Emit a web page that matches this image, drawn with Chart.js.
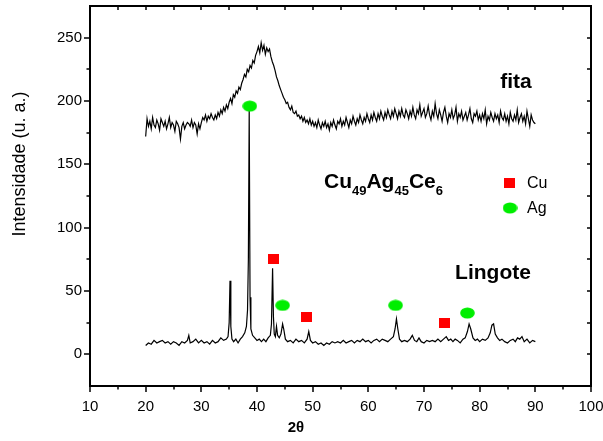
<!DOCTYPE html>
<html>
<head>
<meta charset="utf-8">
<script src="https://cdn.jsdelivr.net/npm/chart.js@4"></script>
<style>
html,body{margin:0;padding:0;background:#fff;}
canvas{display:block;}
</style>
</head>
<body>
<canvas id="c" width="603" height="441"></canvas>
<script>
// ---------------- DATA ----------------
// "fita" pattern: measured every 0.25 deg from 20 to 90 (2theta)
const fitaStart = 20;
const fitaStep = 0.25;
const fitaVals = [
172,186,180,184,178,187,181,179,185,182, 177,186,183,180,184,178,182,187,179,183,
181,176,184,182,179,170,180,183,178,181, 183,182,180,185,179,183,181,174,182,178,
183,187,185,189,184,188,186,190,187,185, 189,186,191,188,193,190,195,192,197,194,
199,202,198,205,203,208,206,211,209,214, 217,221,219,225,223,228,226,232,230,236,
239,243,238,246,240,244,237,242,239,241, 235,231,228,224,219,216,212,209,206,203,
201,198,199,195,193,196,191,190,192,188, 189,186,188,184,187,183,185,182,186,181,
184,180,183,179,185,181,178,183,180,184, 179,182,177,183,180,185,181,178,184,182,
186,180,184,181,187,183,179,185,182,188, 184,181,186,183,189,185,182,187,184,190,
186,183,189,185,191,187,184,190,186,192, 188,185,191,187,193,189,186,192,188,194,
190,186,192,188,194,189,187,193,190,186, 192,188,195,189,186,193,190,197,188,191,
194,187,190,196,189,185,192,188,198,190, 186,193,189,184,191,195,188,183,190,187,
193,186,189,195,184,190,187,192,185,188, 191,185,189,194,186,183,190,188,192,185,
189,184,190,186,193,182,188,185,191,187, 184,190,186,189,183,192,187,185,190,184,
188,182,191,186,184,189,185,193,183,187, 190,184,188,182,192,186,180,189,185,183,
182
];

// "Lingote" pattern
const lingAngles = [
20,20.5,21,21.5,22,22.5,23,23.5,24,24.5,25,25.5,26,26.5,27,27.5,27.75,28,28.5,29,29.5,
30,30.5,31,31.5,32,32.5,33,33.5,34,34.5,34.8,35.0,35.15,35.3,35.5,35.8,36.2,36.6,37.0,37.4,
37.8,38.1,38.3,38.45,38.6,38.75,38.9,39.2,39.6,40,40.4,40.8,41.2,41.6,42,42.4,42.6,42.8,
42.95,43.1,43.3,43.5,43.7,44,44.3,44.6,44.8,45.1,45.5,46,46.5,47,47.5,48,48.5,49,49.3,49.6,
50,50.5,51,51.5,52,52.5,53,53.5,54,54.5,55,55.5,56,56.5,57,57.5,58,58.5,59,59.5,
60,60.5,61,61.5,62,62.5,63,63.5,64,64.5,64.8,65.05,65.3,65.6,66,66.5,67,67.5,67.9,68.3,
68.7,69.1,69.5,70,70.5,71,71.5,72,72.5,73,73.5,74,74.4,74.8,75.2,75.6,76,76.5,77,77.4,
77.8,78.1,78.4,78.8,79.2,79.6,80,80.5,81,81.5,81.9,82.2,82.5,82.8,83.2,83.6,84,84.5,
85,85.5,86,86.4,86.8,87.2,87.6,88,88.5,89,89.5,90
];
const lingVals = [
7,9,8,11,9,10,11,9,10,8,10,9,7,10,9,11,15,9,10,12,9,
11,9,10,8,11,9,10,13,11,12,14,25,58,22,12,10,12,9,12,14,
17,22,35,75,193,45,20,15,13,11,12,10,12,10,13,15,24,68,
30,16,14,22,15,13,16,24,20,12,10,11,9,12,10,11,9,12,18,11,
9,10,8,9,7,9,8,10,9,10,9,11,9,10,11,9,11,10,12,10,
11,9,11,12,10,12,11,10,12,14,20,28,20,12,10,11,10,12,15,11,
10,13,10,9,11,10,11,10,12,10,12,14,11,12,10,12,11,9,12,13,
18,24,20,13,11,12,10,12,11,13,17,23,24,16,13,11,12,10,
9,11,12,10,13,12,14,10,12,9,11,10
];

// phase markers
const cuAngles = [42.9, 48.9, 73.6];
const cuHeights = [75, 29.5, 24.5];
const agAngles = [38.7, 44.6, 64.9, 77.8];
const agHeights = [196, 38.7, 38.7, 32.6];

// axes
const xTickLabels = [10,20,30,40,50,60,70,80,90,100];
const yTickLabels = [0,50,100,150,200,250];
const xRange = [10, 100];
const yRange = [-25, 275];

// ---------------- BUILD ----------------
const fitaPts = fitaVals.map((v,i)=>({x: fitaStart + i*fitaStep, y: v}));
const lingPts = lingVals.map((v,i)=>({x: lingAngles[i], y: v}));
const cuPts = cuAngles.map((a,i)=>({x:a, y:cuHeights[i]}));
const agPts = agAngles.map((a,i)=>({x:a, y:agHeights[i]}));

const RED = '#ff0000';
const GREEN = '#00ee00';
function makeSquare(){
  const c = document.createElement('canvas'); c.width = 11; c.height = 10;
  const g = c.getContext('2d'); g.fillStyle = RED; g.fillRect(0,0,11,10); return c;
}
function makeEllipse(){
  const c = document.createElement('canvas'); c.width = 15; c.height = 12;
  const g = c.getContext('2d'); g.fillStyle = GREEN; g.beginPath();
  g.ellipse(7.5,6,7.3,5.6,0,0,Math.PI*2); g.fill(); return c;
}
const sqImg = makeSquare();
const elImg = makeEllipse();

const FONT = 'Arial, "Liberation Sans", Helvetica, sans-serif';

const decor = {
  id: 'decor',
  afterDraw(chart){
    const ctx = chart.ctx;
    const a = chart.chartArea;
    const xs = chart.scales.x, ys = chart.scales.y;
    ctx.save();
    // frame
    ctx.strokeStyle = '#000';
    ctx.lineWidth = 2;
    ctx.strokeRect(a.left, a.top, a.right - a.left, a.bottom - a.top);
    ctx.lineWidth = 1.5;
    ctx.beginPath();
    for (let v = xRange[0]; v <= xRange[1]; v += 5) {
      const px = Math.round(xs.getPixelForValue(v));
      const major = v % 10 === 0;
      ctx.moveTo(px, a.bottom); ctx.lineTo(px, a.bottom + (major ? 6 : 3.5));
      if (v > xRange[0] && v < xRange[1]) { ctx.moveTo(px, a.top); ctx.lineTo(px, a.top + 4); }
    }
    for (let v = yRange[0]; v <= yRange[1]; v += 25) {
      const py = Math.round(ys.getPixelForValue(v));
      const major = v % 50 === 0;
      if (v > yRange[0] && v < yRange[1]) {
        ctx.moveTo(a.left, py); ctx.lineTo(a.left - (major ? 6 : 3.5), py);
        ctx.moveTo(a.right, py); ctx.lineTo(a.right - 4, py);
      }
    }
    ctx.stroke();

    ctx.fillStyle = '#000';
    // axis titles
    ctx.font = '18px ' + FONT;
    ctx.textAlign = 'center'; ctx.textBaseline = 'middle';
    ctx.save();
    ctx.translate(20, 164);
    ctx.rotate(-Math.PI/2);
    ctx.fillText('Intensidade (u. a.)', 0, 0);
    ctx.restore();
    ctx.font = 'bold 15px ' + FONT;
    ctx.fillText('2\u03B8', 296, 428);

    // labels
    ctx.font = 'bold 21px ' + FONT;
    ctx.textAlign = 'center'; ctx.textBaseline = 'alphabetic';
    ctx.fillText('fita', 516, 88);
    ctx.fillText('Lingote', 493, 279);

    // formula Cu49Ag45Ce6
    let x = 324; const base = 188;
    ctx.textAlign = 'left';
    const parts = [['Cu',0],['49',1],['Ag',0],['45',1],['Ce',0],['6',1]];
    parts.forEach(([t,sub])=>{
      ctx.font = sub ? 'bold 13px ' + FONT : 'bold 21px ' + FONT;
      const y = sub ? base + 7 : base;
      ctx.fillText(t, x, y);
      x += ctx.measureText(t).width;
    });

    // legend
    ctx.drawImage(sqImg, 504, 178);
    ctx.drawImage(elImg, 502.5, 202);
    ctx.font = '16px ' + FONT;
    ctx.textBaseline = 'middle';
    ctx.fillText('Cu', 527, 184);
    ctx.fillText('Ag', 527, 209);
    ctx.restore();
  }
};

new Chart(document.getElementById('c'), {
  type: 'scatter',
  data: {
    datasets: [
      {label:'Cu', data: cuPts, pointStyle: sqImg, pointRadius: 5, showLine:false, order:0},
      {label:'Ag', data: agPts, pointStyle: elImg, pointRadius: 5, showLine:false, order:0},
      {label:'fita', data: fitaPts, showLine:true, borderColor:'#000', borderWidth:1.2, pointRadius:0, tension:0, order:1},
      {label:'Lingote', data: lingPts, showLine:true, borderColor:'#000', borderWidth:1.2, pointRadius:0, tension:0, order:1}
    ]
  },
  options: {
    responsive: false,
    animation: false,
    events: [],
    layout: {padding: {left:0, right:12, top:6, bottom:0}},
    plugins: {legend:{display:false}, tooltip:{enabled:false}},
    scales: {
      x: {
        type:'linear', min: xRange[0], max: xRange[1],
        afterBuildTicks: s => { s.ticks = xTickLabels.map(v=>({value:v})); },
        afterFit: s => { s.height = 55; s.paddingLeft = 0; s.paddingRight = 0; },
        grid: {display:false, drawTicks:false},
        border: {display:false},
        ticks: {padding: 12, color:'#000', font:{family: FONT, size:15}, maxRotation:0, autoSkip:false}
      },
      y: {
        type:'linear', min: yRange[0], max: yRange[1],
        afterBuildTicks: s => { s.ticks = yTickLabels.map(v=>({value:v})); },
        afterFit: s => { s.width = 90; s.paddingTop = 0; s.paddingBottom = 0; },
        grid: {display:false, drawTicks:false},
        border: {display:false},
        ticks: {padding: 8, color:'#000', font:{family: FONT, size:15}, autoSkip:false}
      }
    }
  },
  plugins: [decor]
});
</script>
</body>
</html>
